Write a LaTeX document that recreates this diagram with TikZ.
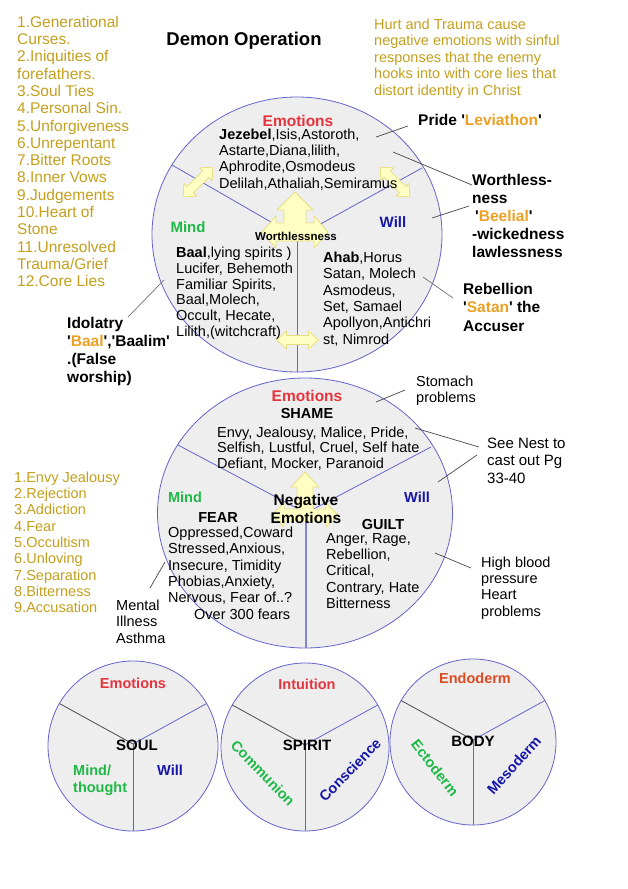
\documentclass[tikz,border=0pt]{standalone}
\usepackage{fontspec}
\setmainfont{Liberation Sans}[Ligatures=TeXOff]
\usetikzlibrary{shapes.geometric}
\definecolor{gold}{RGB}{196,160,30}
\definecolor{orng}{RGB}{236,160,36}
\definecolor{emored}{RGB}{230,52,62}
\definecolor{mindgreen}{RGB}{30,185,70}
\definecolor{willblue}{RGB}{22,22,170}
\definecolor{endored}{RGB}{222,74,36}
\definecolor{ringblue}{RGB}{100,100,204}
\definecolor{discfill}{RGB}{238,238,238}
\definecolor{arrowfill}{RGB}{255,255,196}
\definecolor{arrowline}{RGB}{232,222,130}
\definecolor{leader}{RGB}{70,70,70}
\newcommand{\fst}{\rule{0pt}{0.8em}}
\tikzset{
  disc/.style={draw=ringblue, fill=discfill, line width=0.8pt, inner sep=0pt},
  divider/.style={draw=ringblue, line width=0.8pt},
  darkdiv/.style={draw=black!70, line width=0.8pt},
  fatarrow/.style={draw=arrowline, fill=arrowfill, line width=0.8pt, line join=round},
  leaderline/.style={draw=leader, line width=0.7pt},
  blk/.style={inner sep=0pt, anchor=north west, align=left},
  lbl/.style={inner sep=0pt, anchor=base},
  rot/.style={inner sep=0pt, anchor=center},
  dblarrow/.pic={\path[fatarrow] (-21,0) -- (-11,-9) -- (-11,-4.5) -- (11,-4.5) -- (11,-9) -- (21,0) -- (11,9) -- (11,4.5) -- (-11,4.5) -- (-11,9) -- cycle;}
}
\begin{document}
\begin{tikzpicture}[x=1pt,y=-1pt]
\path[fill=white] (0,0) rectangle (628,889);
\useasboundingbox (0,0) rectangle (628,889);

% ---------- discs ----------
\node[disc, ellipse, minimum width=290pt, minimum height=275pt] (topdisc) at (297,234.5) {};
\node[disc, ellipse, minimum width=295pt, minimum height=270pt] (middisc) at (305,513) {};
\node[disc, circle, minimum size=170pt] (souldisc) at (133,746) {};
\node[disc, circle, minimum size=168pt] (spiritdisc) at (305,747) {};
\node[disc, circle, minimum size=166pt] (bodydisc) at (473,742) {};

% ---------- dividers ----------
\coordinate (tc) at (297,237);
\coordinate (tl) at (172,165);
\coordinate (tr) at (422,168);
\coordinate (tb) at (297,372);
\draw[divider] (tl) -- (tc) -- (tr);
\draw[divider] (tc) -- (tb);

\coordinate (mc) at (306,513);
\coordinate (ml) at (178,445);
\coordinate (mr) at (431,447);
\coordinate (mb) at (306,648);
\draw[divider] (ml) -- (mc) -- (mr);
\draw[draw=ringblue!80, line width=1.6pt] (mc) -- (mb);

\coordinate (sc) at (133,744);
\draw[darkdiv] (59.4,703.5) -- (sc);
\draw[divider] (206.6,703.5) -- (sc);
\draw[divider] (sc) -- (133,831);

\coordinate (pc) at (305,745);
\draw[darkdiv] (232.3,705) -- (pc);
\draw[divider] (377.7,705) -- (pc);
\draw[divider] (pc) -- (305,831);

\coordinate (bc) at (473,740);
\draw[darkdiv] (401.1,700.5) -- (bc);
\draw[divider] (544.9,700.5) -- (bc);
\draw[divider] (bc) -- (473,825);

% ---------- fat arrows ----------
\path[fatarrow] (295,192) -- (313,210) -- (306,210) -- (306,223) -- (314,223) -- (314,216) -- (328,232) -- (314,248) -- (314,241) -- (276,241) -- (276,248) -- (262,232) -- (276,216) -- (276,223) -- (284,223) -- (284,210) -- (277,210) -- cycle;
\pic[rotate=45] at (198,182) {dblarrow};
\pic[rotate=-45] at (395,182) {dblarrow};
\pic at (297.5,340) {dblarrow};

\path[fatarrow] (305,472) -- (319,487) -- (313,487) -- (313,509) -- (326,509) -- (326,503) -- (338,515) -- (326,527) -- (326,521) -- (284,521) -- (284,527) -- (272,515) -- (284,503) -- (284,509) -- (297,509) -- (297,487) -- (291,487) -- cycle;

% ---------- left and top texts ----------
\node[blk, text=gold, font=\fontsize{15.5}{17.3}\selectfont] (causes) at (17,14.6) {\fst 1.Generational\\Curses.\\2.Iniquities of\\forefathers.\\3.Soul Ties\\4.Personal Sin.\\5.Unforgiveness\\6.Unrepentant\\7.Bitter Roots\\8.Inner Vows\\9.Judgements\\10.Heart of\\Stone\\11.Unresolved\\Trauma/Grief\\12.Core Lies};

\node[lbl, font=\bfseries\fontsize{18.5}{21}\selectfont] (title) at (244,45) {Demon Operation};

\node[blk, text=gold, font=\fontsize{14.5}{16.5}\selectfont] (hurt) at (374,17.4) {\fst Hurt and Trauma cause\\negative emotions with sinful\\responses that the enemy\\hooks into with core lies that\\distort identity in Christ};

\node[lbl, anchor=base west, font=\bfseries\fontsize{15.5}{18}\selectfont] (pride) at (418,125) {Pride '{\color{orng}Leviathon}'};
\node[blk, font=\bfseries\fontsize{15.5}{18}\selectfont] (worth) at (472,172.6) {\fst Worthless-\\ness\\\hspace*{3pt}'{\color{orng}Beelial}'\\-wickedness\\lawlessness};
\node[blk, font=\bfseries\fontsize{15.5}{18.5}\selectfont] (rebel) at (463,281.6) {\fst Rebellion\\'{\color{orng}Satan}' the\\Accuser};
\node[blk, font=\bfseries\fontsize{15.5}{18}\selectfont] (idol) at (67,315.6) {\fst Idolatry\\'{\color{orng}Baal}','Baalim'\\.(False\\worship)};

% ---------- top disc texts ----------
\node[lbl, text=emored, font=\bfseries\fontsize{15.5}{18}\selectfont] (emo1) at (298,126) {Emotions};
\node[blk, font=\fontsize{14.5}{16.3}\selectfont] (jez) at (219,127.4) {\fst\textbf{Jezebel},Isis,Astoroth,\\Astarte,Diana,lilith,\\Aphrodite,Osmodeus\\Delilah,Athaliah,Semiramus};
\node[lbl, text=mindgreen, font=\bfseries\fontsize{15}{18}\selectfont] (mind1) at (188,232) {Mind};
\node[lbl, text=willblue, font=\bfseries\fontsize{15}{18}\selectfont] (will1) at (393,227) {Will};
\node[lbl, font=\bfseries\fontsize{11.5}{14}\selectfont] (wl) at (296,240) {Worthlessness};
\node[blk, font=\fontsize{14.5}{15.9}\selectfont] (mindlist) at (176,245.4) {\fst\textbf{Baal},lying spirits )\\Lucifer, Behemoth\\Familiar Spirits,\\Baal,Molech,\\Occult, Hecate,\\Lilith,(witchcraft)};
\node[blk, font=\fontsize{14.5}{16.4}\selectfont] (willlist) at (323,250.4) {\fst\textbf{Ahab},Horus\\Satan, Molech\\Asmodeus,\\Set, Samael\\Apollyon,Antichri\\st, Nimrod};

% ---------- middle disc texts ----------
\node[lbl, text=emored, font=\bfseries\fontsize{15.5}{18}\selectfont] (emo2) at (307,401) {Emotions};
\node[lbl, font=\bfseries\fontsize{14.5}{17}\selectfont] (shame) at (307,418) {SHAME};
\node[blk, font=\fontsize{14.5}{15.5}\selectfont] (envy) at (217,425.4) {\fst Envy, Jealousy, Malice, Pride,\\Selfish, Lustful, Cruel, Self hate\\Defiant, Mocker, Paranoid};
\node[lbl, text=mindgreen, font=\bfseries\fontsize{14.5}{17}\selectfont] (mind2) at (185,502) {Mind};
\node[lbl, font=\bfseries\fontsize{14.5}{17}\selectfont] (fear) at (218,522) {FEAR};
\node[blk, font=\fontsize{14.5}{16.4}\selectfont] (opp) at (168,525.4) {\fst Oppressed,Coward\\Stressed,Anxious,\\Insecure, Timidity\\Phobias,Anxiety,\\Nervous, Fear of..?\\\hspace*{26pt}Over 300 fears};
\node[inner sep=0pt, anchor=north, align=center, font=\bfseries\fontsize{15.5}{18}\selectfont] (neg) at (306,492.6) {\fst Negative\\Emotions};
\node[lbl, text=willblue, font=\bfseries\fontsize{14.5}{17}\selectfont] (will2) at (417,502) {Will};
\node[lbl, font=\bfseries\fontsize{14.5}{17}\selectfont] (guilt) at (383,529) {GUILT};
\node[blk, font=\fontsize{14.5}{16.3}\selectfont] (anger) at (326,531.4) {\fst Anger, Rage,\\Rebellion,\\Critical,\\Contrary, Hate\\Bitterness};

\node[blk, font=\fontsize{14.5}{16}\selectfont] (stomach) at (416,374.4) {\fst Stomach\\problems};
\node[blk, font=\fontsize{15}{17.5}\selectfont] (nest) at (487,436) {\fst See Nest to\\cast out Pg\\33-40};
\node[blk, font=\fontsize{14.5}{16.3}\selectfont] (hbp) at (481,555.4) {\fst High blood\\pressure\\Heart\\problems};
\node[blk, font=\fontsize{14.5}{16.5}\selectfont] (mental) at (116,598.4) {\fst Mental\\Illness\\Asthma};
\node[blk, text=gold, font=\fontsize{14.5}{16.3}\selectfont] (list2) at (14,470.4) {\fst 1.Envy Jealousy\\2.Rejection\\3.Addiction\\4.Fear\\5.Occultism\\6.Unloving\\7.Separation\\8.Bitterness\\9.Accusation};

% ---------- bottom disc texts ----------
\node[lbl, text=emored, font=\bfseries\fontsize{14.5}{17}\selectfont] (emo3) at (133,688) {Emotions};
\node[lbl, font=\bfseries\fontsize{15}{18}\selectfont] (soul) at (137,750) {SOUL};
\node[blk, text=mindgreen, font=\bfseries\fontsize{14.5}{17}\selectfont] (mindthought) at (73,763.4) {\fst Mind/\\thought};
\node[lbl, text=willblue, font=\bfseries\fontsize{14.5}{17}\selectfont] (will3) at (170,775) {Will};

\node[lbl, text=emored, font=\bfseries\fontsize{14.5}{17}\selectfont] (intu) at (307,689) {Intuition};
\node[lbl, font=\bfseries\fontsize{15}{18}\selectfont] (spirit) at (307,750) {SPIRIT};
\node[rot, text=mindgreen, font=\bfseries\fontsize{14.5}{17}\selectfont, rotate=-46] (comm) at (263,773) {Communion};
\node[rot, text=willblue, font=\bfseries\fontsize{14.5}{17}\selectfont, rotate=46] (consc) at (350,770) {Conscience};

\node[lbl, text=endored, font=\bfseries\fontsize{14.5}{17}\selectfont] (endo) at (475,683) {Endoderm};
\node[lbl, font=\bfseries\fontsize{15}{18}\selectfont] (body) at (473,746) {BODY};
\node[rot, text=mindgreen, font=\bfseries\fontsize{14.5}{17}\selectfont, rotate=-52] (ecto) at (435,768) {Ectoderm};
\node[rot, text=willblue, font=\bfseries\fontsize{14.5}{17}\selectfont, rotate=48] (meso) at (514,765) {Mesoderm};

% ---------- leader lines ----------
\coordinate (prideA) at (408,126);  \coordinate (prideB) at (376,137);
\coordinate (worthA) at (472,185);  \coordinate (worthB) at (393,152);
\coordinate (willA) at (469,206);   \coordinate (willB) at (432,218);
\coordinate (rebA) at (453,298);    \coordinate (rebB) at (423,277);
\coordinate (idolA) at (128,317);   \coordinate (idolB) at (164,280);
\coordinate (stomA) at (405,390);   \coordinate (stomB) at (376,402);
\coordinate (nestA) at (479,447);   \coordinate (nestB) at (415,428);
\coordinate (nestC) at (477,455);   \coordinate (nestD) at (438,482);
\coordinate (hbpA) at (471,568);    \coordinate (hbpB) at (435,553);
\coordinate (mentA) at (150,588);   \coordinate (mentB) at (165,562);
\draw[leaderline] (prideA) -- (prideB);
\draw[leaderline] (worthA) -- (worthB);
\draw[leaderline] (willA) -- (willB);
\draw[leaderline, draw=black!55] (rebA) -- (rebB);
\draw[leaderline, draw=black!55] (idolA) -- (idolB);
\draw[leaderline] (stomA) -- (stomB);
\draw[leaderline] (nestA) -- (nestB);
\draw[leaderline] (nestC) -- (nestD);
\draw[leaderline] (hbpA) -- (hbpB);
\draw[leaderline] (mentA) -- (mentB);
\end{tikzpicture}
\end{document}
